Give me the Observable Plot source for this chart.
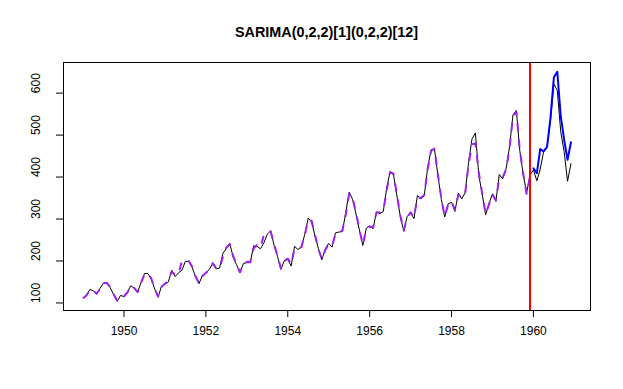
<!DOCTYPE html>
<html>
<head>
<meta charset="utf-8">
<script src="https://cdn.jsdelivr.net/npm/d3@7"></script>
<script src="https://cdn.jsdelivr.net/npm/@observablehq/plot@0.6"></script>
<style>
  html, body { margin: 0; padding: 0; background: #fff; }
  #wrap { position: relative; width: 623px; height: 389px; font-family: "Liberation Sans", Arial, Helvetica, sans-serif; }
  #title { position: absolute; left: 63px; width: 527px; top: 24px; text-align: center; font-weight: bold; font-size: 14.4px; color: #000; }
</style>
</head>
<body>
<div id="wrap"><div id="title">SARIMA(0,2,2)[1](0,2,2)[12]</div></div>
<script>
// Monthly air passengers, Jan 1949 - Dec 1960
const startYear = 1949;
const actual = [
  112,118,132,129,121,135,148,148,136,119,104,118,
  115,126,141,135,125,149,170,170,158,133,114,140,
  145,150,178,163,172,178,199,199,184,162,146,166,
  171,180,193,181,183,218,230,242,209,191,172,194,
  196,196,236,235,229,243,264,272,237,211,180,201,
  204,188,235,227,234,264,302,293,259,229,203,229,
  242,233,267,269,270,315,364,347,312,274,237,278,
  284,277,317,313,318,374,413,405,355,306,271,306,
  315,301,356,348,355,422,465,467,404,347,305,336,
  340,318,362,348,363,435,491,505,404,359,310,337,
  360,342,406,396,420,472,548,559,463,407,362,405,
  417,391,419,461,472,535,622,606,508,461,390,432
];
// In-sample fitted values, Jan 1949 - Dec 1959
const fitted = [
  111,118,131,129,122,134,147,148,137,120,106,117,
  116,125,140,136,126,147,168,171,158,134,115,138,
  146,152,175,166,170,200,200,200,186,163,147,164,
  172,178,195,183,182,210,232,240,212,192,173,192,
  198,197,230,238,232,262,268,270,240,212,182,200,
  206,192,230,230,233,262,298,296,262,228,204,226,
  240,236,265,270,272,310,360,350,315,275,238,275,
  282,280,315,316,320,368,412,408,357,308,272,304,
  316,304,352,350,357,418,462,468,407,350,306,334,
  342,322,358,352,362,430,478,480,410,360,312,335,
  358,345,398,400,418,468,545,556,465,408,360,400
];
// Forecast, Jan 1960 - Dec 1960
const forecast = [421,409,467,461,472,541,638,651,545,489,441,483];
const splitAt = 1959 + 11/12;
const xTicks = [1950,1952,1954,1956,1958,1960];
const yTicks = [100,200,300,400,500,600];

const toPts = (arr, offset) => arr.map((v, i) => ({t: startYear + (i + offset) / 12, v}));
const actualPts = toPts(actual, 0);
const fittedPts = toPts(fitted, 0);
const forecastPts = toPts(forecast, 132);

const chart = Plot.plot({
  width: 623,
  height: 389,
  marginTop: 62,
  marginBottom: 79,
  marginLeft: 63,
  marginRight: 33,
  style: {background: "#fff", fontFamily: "'Liberation Sans', Arial, Helvetica, sans-serif", fontSize: "12px", color: "#000"},
  x: {domain: [1948.523, 1961.394]},
  y: {domain: [82, 673]},
  marks: [
    Plot.axisX({ticks: xTicks, tickSize: 7, tickPadding: 9, tickFormat: d => String(d), label: null, fontSize: 12, stroke: "#000"}),
    Plot.axisY({ticks: yTicks, tickSize: 7, tickFormat: () => "", label: null, stroke: "#000"}),
    Plot.text(yTicks, {y: d => d, text: d => String(d), frameAnchor: "left", dx: -27, rotate: -90, fontSize: 12, fill: "#000"}),
    Plot.line(actualPts, {x: "t", y: "v", stroke: "#000", strokeWidth: 1}),
    Plot.line(fittedPts, {x: "t", y: "v", stroke: "#a020f0", strokeWidth: 2, strokeDasharray: "8,8", strokeLinecap: "butt"}),
    Plot.line(forecastPts, {x: "t", y: "v", stroke: "#0000ff", strokeWidth: 2}),
    Plot.ruleX([splitAt], {stroke: "#ff0000", strokeWidth: 2}),
    Plot.frame({stroke: "#000"})
  ]
});
document.getElementById("wrap").appendChild(chart);
</script>
</body>
</html>
